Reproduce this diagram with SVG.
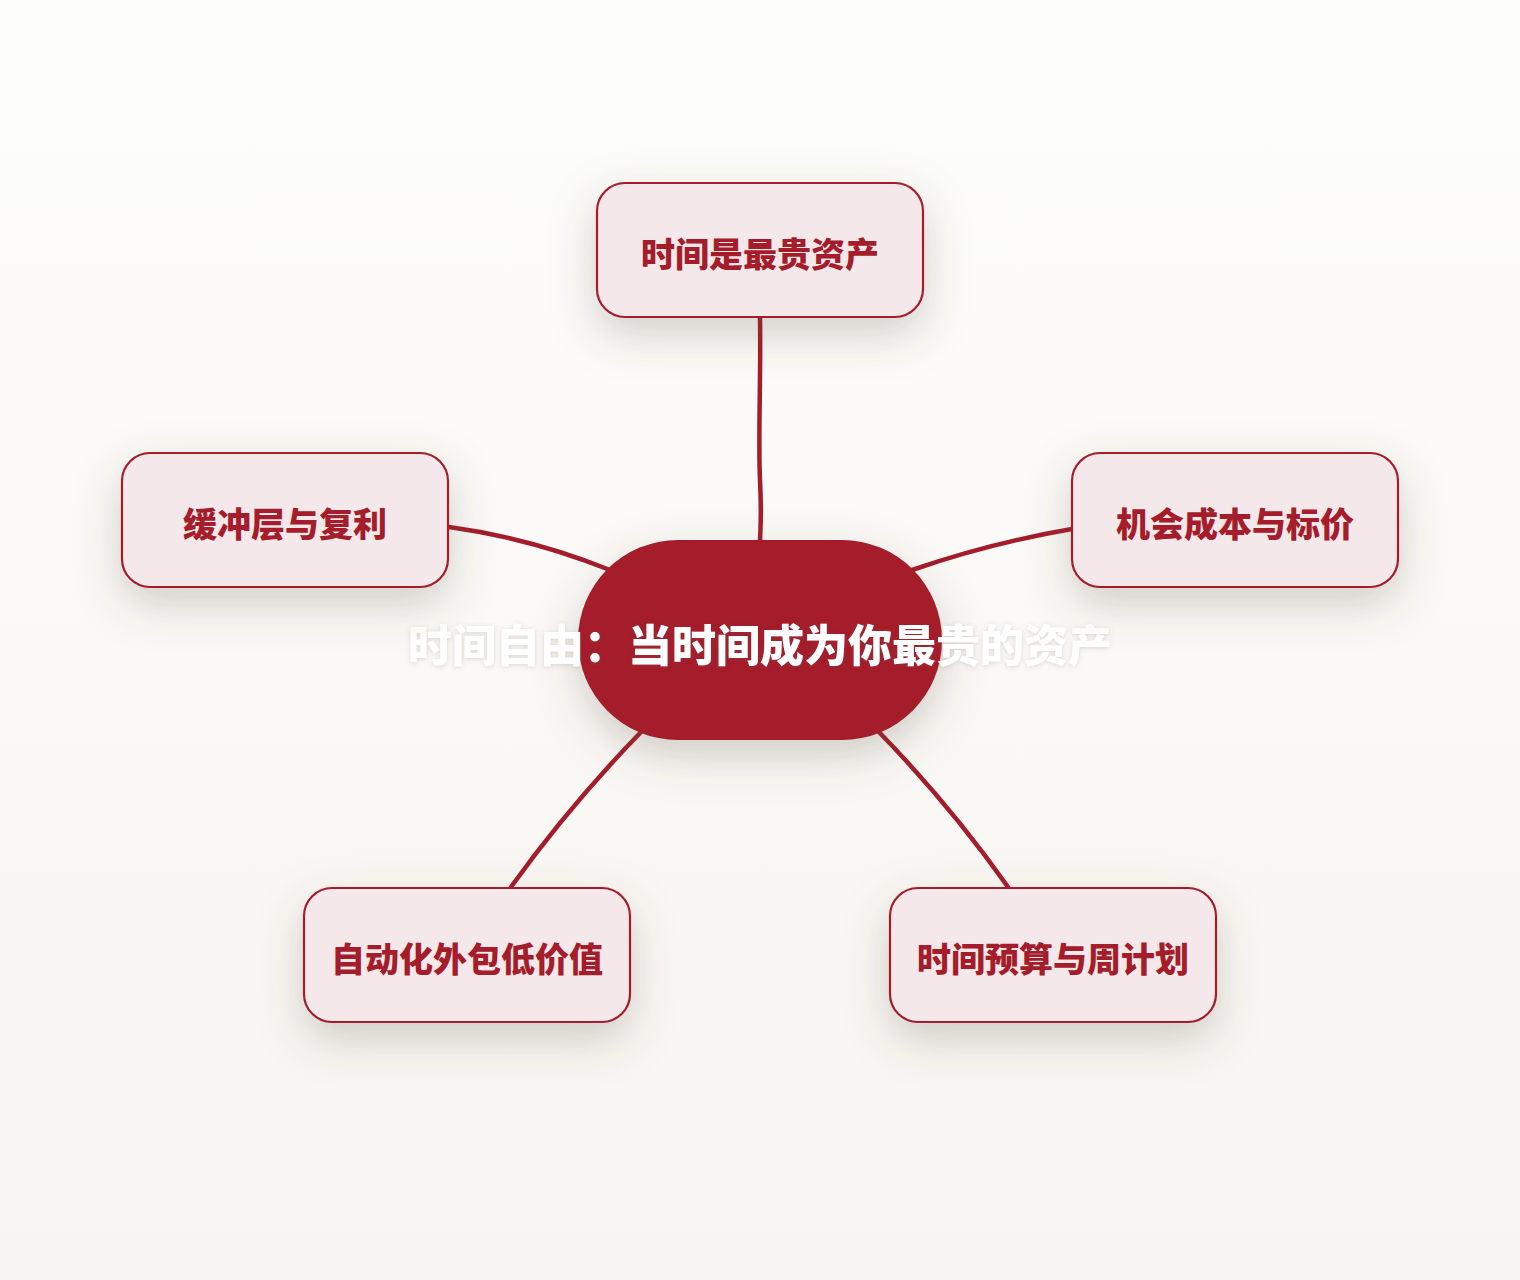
<svg xmlns="http://www.w3.org/2000/svg" width="1520" height="1280" viewBox="0 0 1520 1280">
<defs>
<linearGradient id="bg" x1="0" y1="0" x2="0" y2="1">
<stop offset="0" stop-color="#fdfdfc"/>
<stop offset="1" stop-color="#f7f5f1"/>
</linearGradient>
<filter id="sh" x="-50%" y="-50%" width="200%" height="220%">
<feDropShadow dx="0" dy="16" stdDeviation="22" flood-color="#5a5040" flood-opacity="0.26"/>
</filter>
<filter id="tsh" x="-10%" y="-30%" width="120%" height="160%">
<feDropShadow dx="0" dy="1" stdDeviation="2.5" flood-color="#6a5a50" flood-opacity="0.22"/>
</filter>
<style>
.node{fill:#f5e8ea;stroke:#a51c2a;stroke-width:2.2}
.lbl{font-family:"Noto Sans CJK SC","Noto Sans",sans-serif;font-weight:900;font-size:34px;fill:#a51c2a;text-anchor:middle;dominant-baseline:central}
.edge{fill:none;stroke:#a51c2a;stroke-width:4.5;stroke-linecap:round}
.title{font-family:"Noto Sans CJK SC","Noto Sans",sans-serif;font-weight:900;font-size:44px;fill:#ffffff;text-anchor:middle;dominant-baseline:central}
</style>
</defs>
<rect width="1520" height="1280" fill="url(#bg)"/>
<g id="connectors">
<path class="edge" d="M760,318 C761,380 758,440 760,480 S760,530 760,545"/>
<path class="edge" d="M449,527 Q530,538 610,570"/>
<path class="edge" d="M1072,529 Q990,543 912,570"/>
<path class="edge" d="M642,731 Q570,805 511,887"/>
<path class="edge" d="M878,731 Q950,805 1008,887"/>
</g>
<g id="center">
<rect x="578" y="540" width="364" height="200" rx="100" ry="100" fill="#a51c2a" filter="url(#sh)"/>
<text class="title" x="760" y="643" filter="url(#tsh)">时间自由：当时间成为你最贵的资产</text>
</g>
<g id="n1">
<rect class="node" x="597" y="183" width="326" height="134" rx="28" filter="url(#sh)"/>
<text class="lbl" x="760" y="252">时间是最贵资产</text>
</g>
<g id="n2">
<rect class="node" x="122" y="453" width="326" height="134" rx="28" filter="url(#sh)"/>
<text class="lbl" x="285" y="522">缓冲层与复利</text>
</g>
<g id="n3">
<rect class="node" x="1072" y="453" width="326" height="134" rx="28" filter="url(#sh)"/>
<text class="lbl" x="1235" y="522">机会成本与标价</text>
</g>
<g id="n4">
<rect class="node" x="304" y="888" width="326" height="134" rx="28" filter="url(#sh)"/>
<text class="lbl" x="467" y="957">自动化外包低价值</text>
</g>
<g id="n5">
<rect class="node" x="890" y="888" width="326" height="134" rx="28" filter="url(#sh)"/>
<text class="lbl" x="1053" y="957">时间预算与周计划</text>
</g>
</svg>
